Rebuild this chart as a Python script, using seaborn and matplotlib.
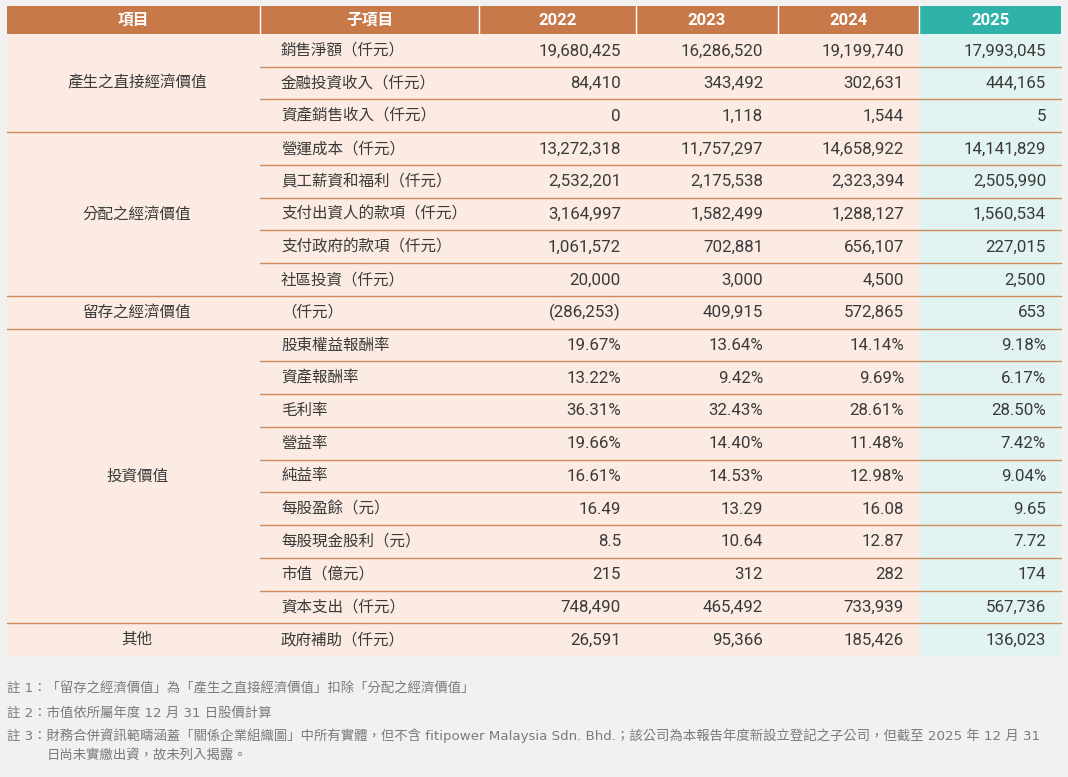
import matplotlib
matplotlib.use("Agg")
import matplotlib.pyplot as plt
from matplotlib.patches import Rectangle
import seaborn as sns

# ---------------- data ----------------
header = ["項目", "子項目", "2022", "2023", "2024", "2025"]
groups = ["產生之直接經濟價值", "分配之經濟價值", "留存之經濟價值", "投資價值", "其他"]
group_sizes = [3, 5, 1, 9, 1]
subitems = [
    "銷售淨額（仟元）", "金融投資收入（仟元）", "資產銷售收入（仟元）",
    "營運成本（仟元）", "員工薪資和福利（仟元）", "支付出資人的款項（仟元）",
    "支付政府的款項（仟元）", "社區投資（仟元）",
    "（仟元）",
    "股東權益報酬率", "資產報酬率", "毛利率", "營益率", "純益率",
    "每股盈餘（元）", "每股現金股利（元）", "市值（億元）", "資本支出（仟元）",
    "政府補助（仟元）",
]
row_format = ["int"] * 9 + ["pct"] * 5 + ["dec", "dec", "int", "int", "int"]
v2022 = [19680425, 84410, 0, 13272318, 2532201, 3164997, 1061572, 20000, -286253,
         19.67, 13.22, 36.31, 19.66, 16.61, 16.49, 8.5, 215, 748490, 26591]
v2023 = [16286520, 343492, 1118, 11757297, 2175538, 1582499, 702881, 3000, 409915,
         13.64, 9.42, 32.43, 14.40, 14.53, 13.29, 10.64, 312, 465492, 95366]
v2024 = [19199740, 302631, 1544, 14658922, 2323394, 1288127, 656107, 4500, 572865,
         14.14, 9.69, 28.61, 11.48, 12.98, 16.08, 12.87, 282, 733939, 185426]
v2025 = [17993045, 444165, 5, 14141829, 2505990, 1560534, 227015, 2500, 653,
         9.18, 6.17, 28.50, 7.42, 9.04, 9.65, 7.72, 174, 567736, 136023]
notes = [
    "註 1：「留存之經濟價值」為「產生之直接經濟價值」扣除「分配之經濟價值」",
    "註 2：市值依所屬年度 12 月 31 日股價計算",
    "註 3：財務合併資訊範疇涵蓋「關係企業組織圖」中所有實體，但不含 fitipower Malaysia Sdn. Bhd.；該公司為本報告年度新設立登記之子公司，但截至 2025 年 12 月 31",
    "日尚未實繳出資，故未列入揭露。",
]


def fmt(v, kind):
    if kind == "pct":
        return f"{v:.2f}%"
    if kind == "dec":
        return f"{v:g}"
    if v < 0:
        return f"({-v:,.0f})"
    return f"{v:,.0f}"


# ---------------- style ----------------
sns.set_theme(style="white")
plt.rcParams["font.family"] = ["Roboto", "Noto Sans CJK TC", "DejaVu Sans"]

BG = "#f1f1f1"
HEAD = "#c8794a"
HEAD25 = "#2fb3a8"
BODY = "#fbebe3"
BODY25 = "#e1f4f1"
LINE = "#d08a5c"
TXT = "#3a3a3a"
NOTE = "#7a7a7a"

W, H = 1068, 777
fig = plt.figure(figsize=(W / 100, H / 100), dpi=100, facecolor=BG)
ax = fig.add_axes([0, 0, 1, 1])
ax.set_xlim(0, W)
ax.set_ylim(H, 0)
ax.axis("off")
ax.set_facecolor(BG)

col_x = [7, 260, 479, 636, 778, 919, 1061]
head_top, head_bot = 6, 34
body_bot = 656
n_rows = len(subitems)
rh = (body_bot - head_bot) / n_rows
FS_CJK = 11.2
FS_NUM = 12.2

# header
for i, name in enumerate(header):
    c = HEAD25 if i == 5 else HEAD
    ax.add_patch(Rectangle((col_x[i], head_top), col_x[i + 1] - col_x[i],
                           head_bot - head_top, facecolor=c, edgecolor="none"))
    fs = 12 if i >= 2 else 11.3
    ax.text((col_x[i] + col_x[i + 1]) / 2, (head_top + head_bot) / 2 + 0.5, name,
            ha="center", va="center", color="white", fontsize=fs, fontweight="bold")
for x in col_x[1:-1]:
    ax.plot([x, x], [head_top, head_bot], color="white", lw=1.0)

# body backgrounds
ax.add_patch(Rectangle((col_x[0], head_bot), col_x[5] - col_x[0], body_bot - head_bot,
                       facecolor=BODY, edgecolor="none"))
ax.add_patch(Rectangle((col_x[5], head_bot), col_x[6] - col_x[5], body_bot - head_bot,
                       facecolor=BODY25, edgecolor="none"))

# rows
cols = [v2022, v2023, v2024, v2025]
group_starts = []
s = 0
for g in group_sizes:
    group_starts.append(s)
    s += g

for r in range(n_rows):
    yc = head_bot + (r + 0.5) * rh
    ax.text(col_x[1] + 21, yc, subitems[r], ha="left", va="center",
            color=TXT, fontsize=FS_CJK)
    for j, vals in enumerate(cols):
        ax.text(col_x[j + 3] - 15, yc + 0.5, fmt(vals[r], row_format[r]),
                ha="right", va="center", color=TXT, fontsize=FS_NUM)
    if r > 0:
        y = head_bot + r * rh
        x0 = col_x[0] if r in group_starts else col_x[1]
        ax.plot([x0, col_x[6]], [y, y], color=LINE, lw=1.0)

for g, st, n in zip(groups, group_starts, group_sizes):
    yc = head_bot + (st + n / 2) * rh
    ax.text(137, yc, g, ha="center", va="center", color=TXT, fontsize=FS_CJK)

# notes
note_y = [689, 713, 736, 756]
note_x = [7, 7, 7, 47]
for t, x, y in zip(notes, note_x, note_y):
    ax.text(x, y, t, ha="left", va="center", color=NOTE, fontsize=9.6,
            family=["DejaVu Sans", "Noto Sans CJK TC"])

fig.savefig("out.png", dpi=100, facecolor=BG)
